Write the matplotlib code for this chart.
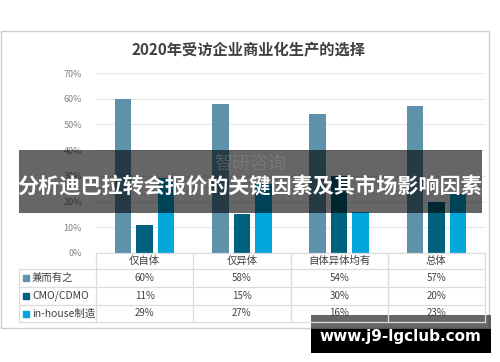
import matplotlib
matplotlib.use("Agg")
import matplotlib.pyplot as plt
import matplotlib.transforms as mtransforms
from matplotlib.patches import Rectangle
from matplotlib.lines import Line2D

plt.rcParams['font.family'] = ['Noto Sans CJK SC', 'DejaVu Sans']

title = "2020年受访企业商业化生产的选择"
categories = ["仅自体", "仅异体", "自体异体均有", "总体"]
series_names = ["兼而有之", "CMO/CDMO", "in-house制造"]
both_vals = [60, 58, 54, 57]
cmo_vals = [11, 15, 30, 20]
inhouse_vals = [29, 27, 16, 23]
y_ticks = [0, 10, 20, 30, 40, 50, 60, 70]
banner_text = "分析迪巴拉转会报价的关键因素及其市场影响因素"
site_text = "www.j9-lgclub.com"

series_vals = [both_vals, cmo_vals, inhouse_vals]
colors = ["#5E91AA", "#00617F", "#00A6DC"]

W, H = 500, 362
def fx(px):
    return px / W
def fy(py):
    return 1 - py / H

fig = plt.figure(figsize=(5, 3.62), dpi=100)
fig.patch.set_facecolor("white")

# outer frame
fig.add_artist(Rectangle((fx(1), fy(328)), fx(488), (328 - 31) / H, transform=fig.transFigure,
                         fill=False, ec="#CFCFCF", lw=1.0))
fig.text(fx(248), fy(50), title, ha="center", va="center", fontsize=11, fontweight="bold", color="#404040")

ax = fig.add_axes([fx(96), fy(253), (485 - 96) / W, (253 - 73) / H])
x = list(range(len(categories)))
offsets = [-0.22, 0.0, 0.22]
for vals, off, c in zip(series_vals, offsets, colors):
    ax.bar([i + off for i in x], vals, width=0.17, color=c, zorder=3)
ax.set_xlim(-0.5, len(categories) - 0.5)
ax.set_ylim(0, 70)
ax.set_yticks(y_ticks)
ax.set_yticklabels([f"{t}%" for t in y_ticks])
ax.tick_params(axis="y", length=0, labelsize=6.5, labelcolor="#808080", pad=10)
ax.set_xticks([])
ax.grid(axis="y", color="#E6E6E6", lw=0.9, zorder=0)
for s in ax.spines.values():
    s.set_visible(False)

# data table under the axes
tr = mtransforms.blended_transform_factory(ax.transData, fig.transFigure)
line_c = "#DCDCDC"
row_lines = [253, 269, 287, 305, 322]
ncat = len(categories)
for k, py in enumerate(row_lines):
    fig.add_artist(Line2D([-0.5, ncat - 0.5], [fy(py), fy(py)], transform=tr, color=line_c, lw=0.9))
    if k > 0:
        fig.add_artist(Line2D([fx(19), fx(96)], [fy(py), fy(py)], transform=fig.transFigure, color=line_c, lw=0.9))
for b in range(ncat + 1):
    fig.add_artist(Line2D([b - 0.5, b - 0.5], [fy(253), fy(322)], transform=tr, color=line_c, lw=0.9))
fig.add_artist(Line2D([fx(19), fx(19)], [fy(269), fy(322)], transform=fig.transFigure, color=line_c, lw=0.9))

for i, cat in enumerate(categories):
    fig.text(i, fy(261), cat, transform=tr, ha="center", va="center", fontsize=7.5, color="#404040")
row_mid = [278, 296, 313.5]
for r, (name, vals, c) in enumerate(zip(series_names, series_vals, colors)):
    fig.add_artist(Rectangle((fx(23), fy(row_mid[r]) - 3 / H), 6 / W, 6 / H, transform=fig.transFigure, color=c))
    fig.text(fx(32), fy(row_mid[r]), name, ha="left", va="center", fontsize=7.5, color="#404040")
    for i, v in enumerate(vals):
        fig.text(i, fy(row_mid[r]), f"{v}%", transform=tr, ha="center", va="center", fontsize=7, color="#404040")

# faint logo watermark behind the banner
fig.text(fx(250), fy(164), "智研咨询", ha="center", va="center", fontsize=13, color="#999999", alpha=0.35)

# dark banner with title overlay
fig.add_artist(Rectangle((fx(19), fy(213)), (482 - 19) / W, (213 - 150) / H, transform=fig.transFigure,
                         color="black", alpha=0.6, lw=0))
fig.text(fx(250), fy(186), banner_text, ha="center", va="center", fontsize=15.2, fontweight="bold", color="white")

# site watermark
fig.add_artist(Rectangle((fx(311), fy(329)), (491 - 311) / W, (329 - 315) / H, transform=fig.transFigure,
                         color="black", alpha=0.6, lw=0))
fig.add_artist(Rectangle((fx(311), fy(353)), (491 - 311) / W, (353 - 329) / H, transform=fig.transFigure,
                         color="black", lw=0))
fig.text(fx(400), fy(337), site_text, ha="center", va="center", fontsize=11, fontweight="bold", color="white",
         family=["DejaVu Sans"])

fig.savefig("out.png", dpi=100, facecolor="white")
